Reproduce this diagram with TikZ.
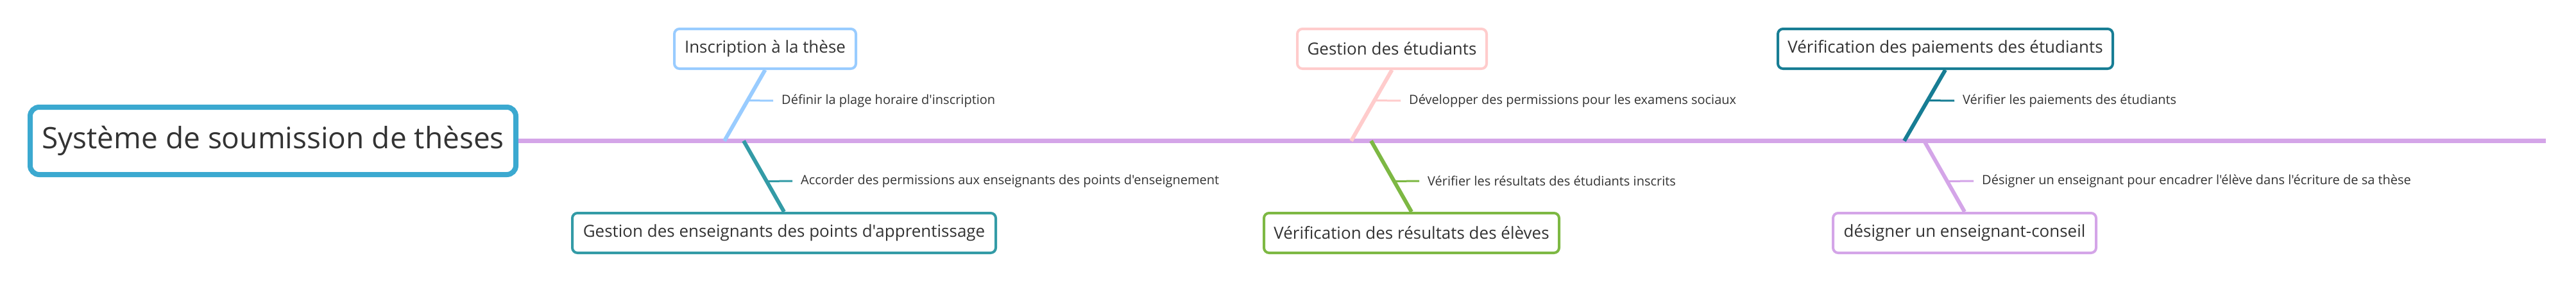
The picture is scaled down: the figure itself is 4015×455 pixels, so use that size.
\documentclass[tikz,border=0pt]{standalone}
\usepackage{fontspec}
\setmainfont{Open Sans}[Ligatures=TeXOff]
\usetikzlibrary{calc}
\definecolor{txt}{HTML}{333333}
\definecolor{rootc}{HTML}{3BA9D0}
\definecolor{spinec}{HTML}{D4A5E8}
\definecolor{ca}{HTML}{99CCFF}
\definecolor{cb}{HTML}{339BA6}
\definecolor{cc}{HTML}{FFCCCC}
\definecolor{cd}{HTML}{7DB843}
\definecolor{ce}{HTML}{177D94}
\definecolor{cf}{HTML}{D4A5E8}
\tikzset{
  rootbox/.style={draw=rootc, line width=8pt, rounded corners=14pt, fill=white,
    minimum width=757pt, minimum height=105pt, inner sep=0pt,
    font=\fontsize{46}{55}\selectfont, text=txt},
  topicbox/.style={draw=#1, line width=4pt, rounded corners=8pt, fill=white,
    minimum height=62pt, inner sep=0pt, font=\fontsize{26}{31}\selectfont, text=txt},
  spineline/.style={draw=spinec, line width=7pt},
  branchline/.style={draw=#1, line width=6pt},
  tickline/.style={draw=#1, line width=3pt},
  leaf/.style={anchor=west, inner sep=0pt, font=\fontsize{20}{24}\selectfont, text=txt}
}
\begin{document}
\begin{tikzpicture}[x=1pt,y=-1pt]
\useasboundingbox[fill=white] (0,0) rectangle (4015,455);
% root and spine
\node[rootbox] (root) at (425.5,219.5) {Système de soumission de thèses};
\coordinate (spineend) at (3968,219.5);
\draw[spineline] (root.east) -- (spineend);
% spine junctions
\coordinate (s1) at (1129,219.5);
\coordinate (s2) at (1159,219.5);
\coordinate (s3) at (2106,219.5);
\coordinate (s4) at (2137,219.5);
\coordinate (s5) at (2968,219.5);
\coordinate (s6) at (2999,219.5);
% boxes
\node[topicbox=ca, minimum width=283pt] (b1) at (1192.5,76) {Inscription à la thèse};
\node[topicbox=cb, minimum width=660pt] (b2) at (1222,363) {Gestion des enseignants des points d'apprentissage};
\node[topicbox=cc, minimum width=295pt] (b3) at (2169.5,76) {Gestion des étudiants};
\node[topicbox=cd, minimum width=460pt] (b4) at (2200,363) {Vérification des résultats des élèves};
\node[topicbox=ce, minimum width=522pt] (b5) at (3032,76) {Vérification des paiements des étudiants};
\node[topicbox=cf, minimum width=410pt] (b6) at (3062,363) {désigner un enseignant-conseil};
% branch lines
\draw[branchline=ca] (b1.south) -- (s1);
\draw[branchline=cb] (s2) -- (b2.north);
\draw[branchline=cc] (b3.south) -- (s3);
\draw[branchline=cd] (s4) -- (b4.north);
\draw[branchline=ce] (b5.south) -- (s5);
\draw[branchline=cf] (s6) -- (b6.north);
% leaves
\node[leaf] (l1) at (1218,157) {Définir la plage horaire d'inscription};
\node[leaf] (l2) at (1248,282) {Accorder des permissions aux enseignants des points d'enseignement};
\node[leaf] (l3) at (2196,157) {Développer des permissions pour les examens sociaux};
\node[leaf] (l4) at (2225,282) {Vérifier les résultats des étudiants inscrits};
\node[leaf] (l5) at (3059,157) {Vérifier les paiements des étudiants};
\node[leaf] (l6) at (3089,282) {Désigner un enseignant pour encadrer l'élève dans l'écriture de sa thèse};
% ticks
\coordinate (t1) at ($(b1.south)!0.43!(s1)$);
\coordinate (t2) at ($(s2)!0.57!(b2.north)$);
\coordinate (t3) at ($(b3.south)!0.43!(s3)$);
\coordinate (t4) at ($(s4)!0.57!(b4.north)$);
\coordinate (t5) at ($(b5.south)!0.43!(s5)$);
\coordinate (t6) at ($(s6)!0.57!(b6.north)$);
\draw[tickline=ca] (t1) -- ([xshift=-13pt]l1.west);
\draw[tickline=cb] (t2) -- ([xshift=-13pt]l2.west);
\draw[tickline=cc] (t3) -- ([xshift=-13pt]l3.west);
\draw[tickline=cd] (t4) -- ([xshift=-13pt]l4.west);
\draw[tickline=ce] (t5) -- ([xshift=-13pt]l5.west);
\draw[tickline=cf] (t6) -- ([xshift=-13pt]l6.west);
\end{tikzpicture}
\end{document}
